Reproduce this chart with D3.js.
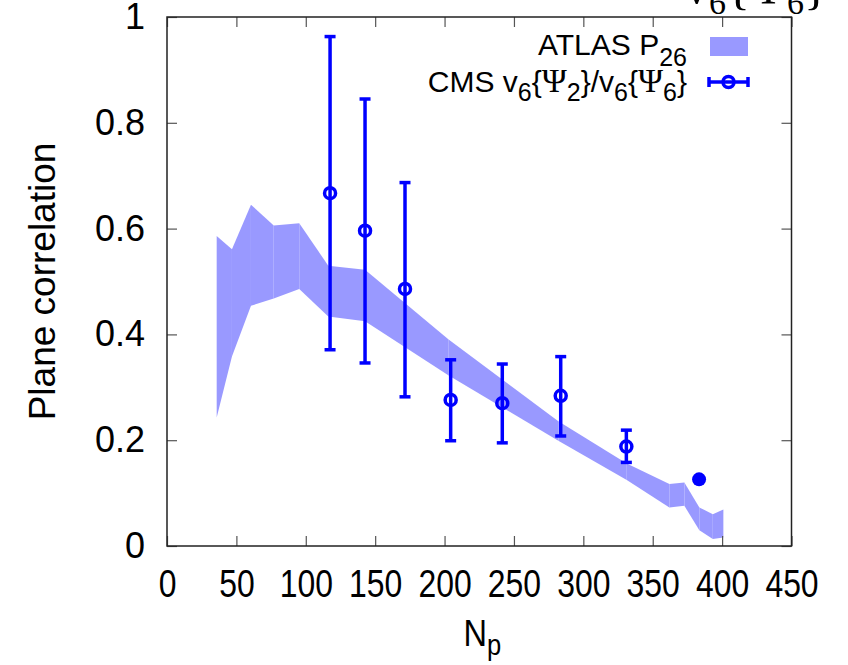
<!DOCTYPE html>
<html>
<head>
<meta charset="utf-8">
<script src="https://cdn.jsdelivr.net/npm/d3@7"></script>
<style>
  body { margin: 0; background: #fff; }
  svg { display: block; }
</style>
</head>
<body>
<svg id="chart" width="848" height="665"></svg>
<script>
// ATLAS P26 band (Np, lower edge, upper edge)
const bandNp   = [35.8, 46.8, 60.5, 76.9, 95.3, 116.2, 142.7, 202.7, 282, 331.3, 362, 372.8, 383.6, 393.3, 400.9];
const bandLow  = [0.243, 0.358, 0.454, 0.468, 0.486, 0.434, 0.425, 0.323, 0.199, 0.125, 0.073, 0.076, 0.030, 0.013, 0.016];
const bandHigh = [0.586, 0.561, 0.645, 0.606, 0.610, 0.530, 0.522, 0.391, 0.236, 0.156, 0.117, 0.120, 0.073, 0.060, 0.069];

// CMS v6{Psi2}/v6{Psi6} points with error bars
const cmsNp   = [117.5, 142.7, 171.5, 204.4, 241.6, 283.7, 331];
const cmsVal  = [0.667, 0.596, 0.486, 0.276, 0.270, 0.284, 0.188];
const cmsLow  = [0.371, 0.346, 0.282, 0.199, 0.195, 0.208, 0.158];
const cmsHigh = [0.963, 0.845, 0.687, 0.352, 0.344, 0.358, 0.219];

// single filled point
const dotNp  = [383.4];
const dotVal = [0.126];

const xTicks = [0, 50, 100, 150, 200, 250, 300, 350, 400, 450];
const yTicks = [0, 0.2, 0.4, 0.6, 0.8, 1];

let svg = d3.select("#chart");

let mLeft = 167, mRight = 791.5, mTop = 17, mBottom = 546;

let x = d3.scaleLinear().domain([0, 450]).range([mLeft, mRight]);
let y = d3.scaleLinear().domain([0, 1]).range([mBottom, mTop]);

const bandColor = "#9999ff";
const blue = "#0000ff";

// cropped title at the very top
let title = svg.append("text")
    .attr("x", 684).attr("y", 3)
    .attr("font-family", "Liberation Serif, serif")
    .attr("font-size", 50)
    .attr("fill", "#000");
title.append("tspan").text("v");
title.append("tspan").attr("font-size", 34).attr("dy", 11).text("6");
title.append("tspan").attr("dy", -11).text("{Ψ");
title.append("tspan").attr("font-size", 34).attr("dy", 11).text("6");
title.append("tspan").attr("dy", -11).text("}");

// band, drawn piece by piece like gnuplot filledcurves
let bandPts = bandNp.map(function(d, i) { return {np: d, lo: bandLow[i], hi: bandHigh[i]}; });
let area = d3.area()
    .x(function(d) { return x(d.np); })
    .y0(function(d) { return y(d.lo); })
    .y1(function(d) { return y(d.hi); });

let bandG = svg.append("g");
for (let i = 0; i < bandPts.length - 1; i++) {
    bandG.append("path")
        .attr("d", area([bandPts[i], bandPts[i + 1]]))
        .attr("fill", bandColor);
}

// axes: inward ticks on all four sides
let fmt = function(d) { return String(+d.toFixed(1)); };

let gx = svg.append("g")
    .attr("transform", "translate(0," + mBottom + ")")
    .call(d3.axisBottom(x).tickValues(xTicks).tickSizeInner(-10).tickSizeOuter(0).tickPadding(24).tickFormat(fmt));
let gy = svg.append("g")
    .attr("transform", "translate(" + mLeft + ",0)")
    .call(d3.axisLeft(y).tickValues(yTicks).tickSizeInner(-10).tickSizeOuter(0).tickPadding(22).tickFormat(fmt));
svg.append("g")
    .attr("transform", "translate(0," + mTop + ")")
    .call(d3.axisTop(x).tickValues(xTicks).tickSizeInner(-10).tickSizeOuter(0).tickFormat(""));
svg.append("g")
    .attr("transform", "translate(" + mRight + ",0)")
    .call(d3.axisRight(y).tickValues(yTicks).tickSizeInner(-10).tickSizeOuter(0).tickFormat(""));

svg.selectAll(".domain").remove();
svg.selectAll(".tick line").attr("stroke", "#555").attr("stroke-width", 1.2);

// condensed, tall tick labels on the x axis
gx.selectAll("text")
    .attr("font-family", "Liberation Sans, Arial, sans-serif")
    .attr("font-size", 38)
    .attr("transform", "scale(0.84,1)")
    .attr("fill", "#000");
gy.selectAll("text")
    .attr("font-family", "Liberation Sans, Arial, sans-serif")
    .attr("font-size", 36)
    .attr("fill", "#000");

// frame
svg.append("rect")
    .attr("x", mLeft).attr("y", mTop)
    .attr("width", mRight - mLeft).attr("height", mBottom - mTop)
    .attr("fill", "none")
    .attr("stroke", "#222")
    .attr("stroke-width", 1.5);

// axis titles
svg.append("text")
    .attr("transform", "translate(55," + ((mTop + mBottom) / 2) + ") rotate(-90)")
    .attr("text-anchor", "middle")
    .attr("font-family", "Liberation Sans, Arial, sans-serif")
    .attr("font-size", 37)
    .text("Plane correlation");

let xt = svg.append("text")
    .attr("x", (mLeft + mRight) / 2 + 3).attr("y", 646)
    .attr("text-anchor", "middle")
    .attr("font-family", "Liberation Sans, Arial, sans-serif")
    .attr("font-size", 37)
    .attr("transform", "translate(" + ((mLeft + mRight) / 2 + 3) * 0.12 + ",0) scale(0.88,1)");
xt.append("tspan").text("N");
xt.append("tspan").attr("font-size", 29).attr("dy", 9).text("p");

// CMS error bars
let cms = cmsNp.map(function(d, i) { return {np: d, v: cmsVal[i], lo: cmsLow[i], hi: cmsHigh[i]}; });
let eb = svg.append("g").attr("stroke", blue).attr("stroke-width", 3.5).attr("fill", "none");

eb.selectAll(".bar").data(cms).enter().append("line")
    .attr("x1", function(d) { return x(d.np); })
    .attr("x2", function(d) { return x(d.np); })
    .attr("y1", function(d) { return y(d.lo); })
    .attr("y2", function(d) { return y(d.hi); });
eb.selectAll(".capLo").data(cms).enter().append("line")
    .attr("x1", function(d) { return x(d.np) - 5.5; })
    .attr("x2", function(d) { return x(d.np) + 5.5; })
    .attr("y1", function(d) { return y(d.lo); })
    .attr("y2", function(d) { return y(d.lo); });
eb.selectAll(".capHi").data(cms).enter().append("line")
    .attr("x1", function(d) { return x(d.np) - 5.5; })
    .attr("x2", function(d) { return x(d.np) + 5.5; })
    .attr("y1", function(d) { return y(d.hi); })
    .attr("y2", function(d) { return y(d.hi); });
eb.selectAll("circle").data(cms).enter().append("circle")
    .attr("cx", function(d) { return x(d.np); })
    .attr("cy", function(d) { return y(d.v); })
    .attr("r", 5.5);

// filled point
svg.selectAll(".dot").data(dotNp).enter().append("circle")
    .attr("cx", function(d) { return x(d); })
    .attr("cy", function(d, i) { return y(dotVal[i]); })
    .attr("r", 7)
    .attr("fill", blue);

// legend
let lg = svg.append("g")
    .attr("font-family", "Liberation Sans, Arial, sans-serif")
    .attr("font-size", 30)
    .attr("text-anchor", "end");

let l1 = lg.append("text").attr("x", 687).attr("y", 55);
l1.append("tspan").text("ATLAS P");
l1.append("tspan").attr("font-size", 25).attr("dy", 11).text("26");

lg.append("rect")
    .attr("x", 710).attr("y", 37)
    .attr("width", 38).attr("height", 19)
    .attr("fill", bandColor);

let l2 = lg.append("text").attr("x", 687).attr("y", 92);
l2.append("tspan").text("CMS v");
l2.append("tspan").attr("font-size", 25).attr("dy", 9).text("6");
l2.append("tspan").attr("dy", -9).text("{");
l2.append("tspan").attr("font-family", "Liberation Serif, serif").attr("font-size", 34).text("Ψ");
l2.append("tspan").attr("font-size", 25).attr("dy", 9).text("2");
l2.append("tspan").attr("dy", -9).text("}/v");
l2.append("tspan").attr("font-size", 25).attr("dy", 9).text("6");
l2.append("tspan").attr("dy", -9).text("{");
l2.append("tspan").attr("font-family", "Liberation Serif, serif").attr("font-size", 34).text("Ψ");
l2.append("tspan").attr("font-size", 25).attr("dy", 9).text("6");
l2.append("tspan").attr("dy", -9).text("}");

let ls = svg.append("g").attr("stroke", blue).attr("stroke-width", 3.5).attr("fill", "none");
ls.append("line").attr("x1", 709).attr("x2", 748).attr("y1", 82).attr("y2", 82);
ls.append("line").attr("x1", 709).attr("x2", 709).attr("y1", 77).attr("y2", 87);
ls.append("line").attr("x1", 748).attr("x2", 748).attr("y1", 77).attr("y2", 87);
ls.append("circle").attr("cx", 728.5).attr("cy", 82).attr("r", 5.5);
</script>
</body>
</html>
